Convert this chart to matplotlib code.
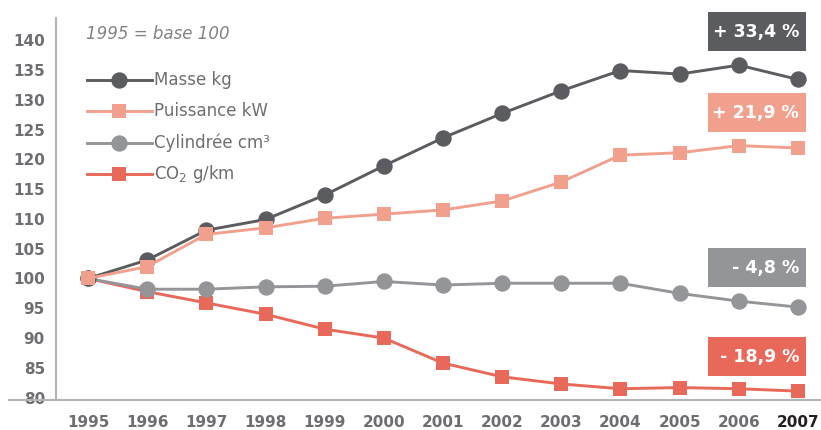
import matplotlib
matplotlib.use("Agg")
import matplotlib.pyplot as plt
from matplotlib.lines import Line2D
from matplotlib.patches import Rectangle

plt.rcParams['font.family'] = ['DejaVu Sans']

# Index values, 1995 = 100
years = list(range(1995, 2008))
masse = [100, 103.1, 108.1, 109.9, 114.0, 118.9, 123.6, 127.7, 131.5, 134.9, 134.3, 135.8, 133.4]
puissance = [100, 102.0, 107.4, 108.5, 110.1, 110.8, 111.5, 113.0, 116.2, 120.7, 121.1, 122.3, 121.9]
cylindree = [100, 98.2, 98.2, 98.6, 98.7, 99.5, 98.9, 99.2, 99.2, 99.2, 97.5, 96.2, 95.2]
co2 = [100, 97.8, 95.9, 94.0, 91.5, 90.0, 85.8, 83.5, 82.3, 81.5, 81.7, 81.5, 81.1]

series_labels = ["Masse kg", "Puissance kW", "Cylindrée cm³", "CO$_2$ g/km"]
y_ticks = list(range(80, 141, 5))
base_note = "1995 = base 100"

C_DARK = "#5b5c60"
C_SALMON = "#f0a08d"
C_GREY = "#949599"
C_RED = "#e8695a"
C_TEXT = "#6d6e71"
C_AXIS = "#b3b4b6"

W, H = 821, 430
fig = plt.figure(figsize=(W / 100, H / 100), dpi=100)

# main plotting area (pixel box: x 56..821, y 18..400)
ax = fig.add_axes([56 / W, (H - 400) / H, (W - 56) / W, (400 - 18) / H])
ax.set_xlim(1994.459, 2007.389)
ax.set_ylim(79.61, 143.71)

series = [
    (masse, C_DARK, "o"),
    (puissance, C_SALMON, "s"),
    (cylindree, C_GREY, "o"),
    (co2, C_RED, "s"),
]
draw_order = [3, 2, 0, 1]
for z, i in enumerate(draw_order):
    vals, col, mk = series[i]
    ax.plot(years, vals, color=col, lw=2.1, marker=mk,
            markersize=11.8 if mk == "o" else 10.6,
            markeredgewidth=0, zorder=3 + z, clip_on=False)

for s in ["top", "right", "bottom"]:
    ax.spines[s].set_visible(False)
ax.spines["left"].set_color(C_AXIS)
ax.spines["left"].set_linewidth(1.5)

ax.set_yticks(y_ticks)
ax.set_yticklabels([str(v) for v in y_ticks])
ax.set_xticks(years)
ax.set_xticklabels([str(y) for y in years])
ax.tick_params(axis="both", length=0, labelsize=11, colors=C_TEXT)
ax.tick_params(axis="y", pad=8)
ax.tick_params(axis="x", pad=11)
for lab in ax.get_yticklabels() + ax.get_xticklabels():
    lab.set_fontweight("bold")
xl = ax.get_xticklabels()
xl[-1].set_color("#231f20")

# overlay in pixel coordinates for legend, baseline and value boxes
ov = fig.add_axes([0, 0, 1, 1], zorder=10)
ov.set_xlim(0, W)
ov.set_ylim(H, 0)
ov.axis("off")

ov.add_line(Line2D([9, W], [400, 400], color=C_AXIS, lw=1.5))

ov.text(86, 34, base_note, fontsize=12, style="italic", color="#808285",
        va="center", ha="left")

legend_rows = [80, 111, 143, 174]
for (vals, col, mk), lab, yy in zip(series, series_labels, legend_rows):
    ov.add_line(Line2D([87, 152], [yy, yy], color=col, lw=2.1))
    ov.add_line(Line2D([119], [yy], color=col, marker=mk,
                       markersize=11.8 if mk == "o" else 10.6,
                       markeredgewidth=0))
    ov.text(154, yy, lab, fontsize=12, color=C_TEXT, va="center", ha="left")

# change boxes, text computed from the final index value
box_tops = [12, 93, 248, 337]
box_cols = [C_DARK, C_SALMON, C_GREY, C_RED]
for (vals, col, mk), top, bc in zip(series, box_tops, box_cols):
    delta = vals[-1] - vals[0]
    sign = "+" if delta >= 0 else "-"
    txt = f"{sign} {abs(delta):.1f} %".replace(".", ",")
    ov.add_patch(Rectangle((708, top), 98, 39, facecolor=bc, edgecolor="none"))
    ov.text(799, top + 20, txt, fontsize=12.5, fontweight="bold", color="white",
            ha="right", va="center")

fig.savefig("out.png", dpi=100)
